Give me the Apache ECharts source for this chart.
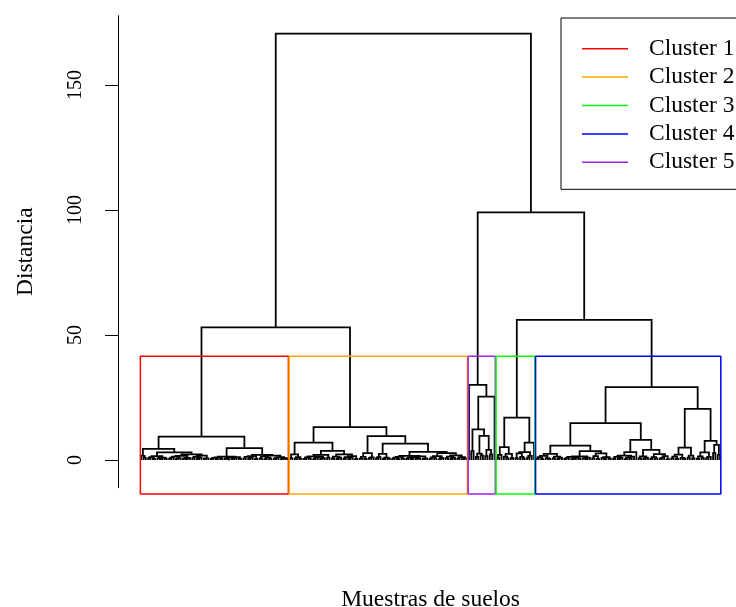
<!DOCTYPE html>
<html><head><meta charset="utf-8">
<script src="https://cdn.jsdelivr.net/npm/echarts@6/dist/echarts.min.js"></script>
<style>html,body{margin:0;padding:0;background:#fff}#c{width:736px;height:607px}</style>
</head><body><div id="c"></div>
<script>
// Cophenetic height between each pair of neighbouring leaves (in plot order), per cluster
const cluster1Gaps = [1.6, 0.8, 4.4,
  0.6, 1.1, 0.4, 1.5, 0.7, 0.3, 0.9, 0.5,
  3.0,
  0.5, 0.9, 1.3, 0.4, 0.7, 1.6, 0.6, 0.3, 0.8,
  2.2,
  0.7, 1.2, 0.4, 0.9, 1.7, 0.5, 0.6,
  9.3,
  0.4, 0.8, 0.3, 1.0, 0.5, 1.3, 0.6, 0.2, 0.9, 0.4, 0.7, 1.1, 0.5,
  4.7,
  0.5, 1.2, 0.3, 0.8, 1.5, 0.4,
  2.0,
  0.6, 1.4, 0.3, 0.9, 0.5, 1.7, 0.4, 0.8, 1.1, 0.3, 0.7, 0.5];
const cluster2Gaps = [0.7, 2.2, 0.5, 1.1, 0.4,
  6.9,
  0.4, 1.0, 0.6, 1.4, 0.3, 0.8, 1.2, 0.5, 0.7,
  2.0,
  0.9,
  3.6,
  0.6, 1.3, 0.4, 0.9, 2.2, 0.5, 1.1, 0.3, 0.8, 1.5, 0.4,
  13.1,
  0.5, 1.2, 0.4, 2.7, 0.8, 1.0,
  9.5,
  0.6, 1.1, 2.4, 0.4, 0.9, 0.5,
  6.5,
  0.5, 0.9, 0.3, 1.2, 0.6, 1.6, 0.4, 0.8, 0.3, 1.1, 0.5, 0.7, 1.4, 0.4, 0.6,
  3.2,
  0.4, 1.0, 0.6, 1.5, 0.3, 0.8,
  2.7,
  0.7, 1.3, 0.4, 0.9, 1.8, 0.5, 1.1, 0.3, 0.6];
const cluster5Gaps = [30.0, 3.5, 12.2, 1.2, 2.5, 1.8, 9.6, 1.5, 4.0, 2.2, 25.3];
const cluster3Gaps = [0.9, 2.0, 5.1, 1.3, 0.6, 2.4, 0.8, 16.9, 0.7, 2.6, 1.2, 0.5, 3.1, 0.9, 1.6, 6.9];
const cluster4Gaps = [0.5, 1.1, 0.3, 1.6, 0.7, 0.4,
  2.4,
  0.6, 1.3, 0.4, 0.9,
  5.7,
  0.4, 0.8, 1.2, 0.3, 0.6, 1.0, 0.5, 1.4, 0.7, 0.3, 0.9,
  3.5,
  0.6, 1.5, 0.4, 2.6, 0.8, 0.3, 1.1, 0.5,
  14.7,
  0.5, 1.2, 0.4, 0.8, 1.7, 0.3, 0.9, 0.6, 1.3,
  3.1,
  8.0,
  0.7, 1.4, 0.5, 0.9,
  4.0,
  0.4, 1.1, 0.6, 2.3, 0.5, 0.8, 1.5, 0.3,
  29.1,
  0.6, 1.3, 0.4, 2.1, 0.8, 0.5,
  4.9,
  0.9, 1.7, 0.6,
  20.4,
  0.5, 1.4, 0.8, 3.0, 0.6, 1.2,
  7.6,
  2.7, 6.0, 2.0];

// clusters in plot order (left to right) and the heights where neighbouring clusters join
const clusterOrder = ['Cluster 1', 'Cluster 2', 'Cluster 5', 'Cluster 3', 'Cluster 4'];
const clusterGapLists = [cluster1Gaps, cluster2Gaps, cluster5Gaps, cluster3Gaps, cluster4Gaps];
const joinHeights = [53.0, 170.5, 99.0, 56.0];
const legendNames = ['Cluster 1', 'Cluster 2', 'Cluster 3', 'Cluster 4', 'Cluster 5'];
const clusterColors = {'Cluster 1': '#FF0000', 'Cluster 2': '#FFA500', 'Cluster 3': '#00FF00', 'Cluster 4': '#0000FF', 'Cluster 5': '#A020F0'};
const yTicks = [0, 50, 100, 150];
const yTitle = 'Distancia';
const xTitle = 'Muestras de suelos';

// ---- build the dendrogram from the neighbour heights ----
const gaps = [];
const clusterSizes = [];
clusterGapLists.forEach((g, i) => {
  g.forEach(v => gaps.push(v));
  clusterSizes.push(g.length + 1);
  if (i < joinHeights.length) gaps.push(joinHeights[i]);
});
const nLeaves = gaps.length + 1;
const segments = [];
function build(lo, hi) {
  if (lo === hi) return {x: lo + 1, h: 0};
  let k = lo;
  for (let i = lo; i < hi; i++) if (gaps[i] > gaps[k]) k = i;
  const L = build(lo, k), R = build(k + 1, hi), h = gaps[k];
  segments.push({coords: [[L.x, L.h], [L.x, h], [R.x, h], [R.x, R.h]]});
  return {x: (L.x + R.x) / 2, h: h};
}
build(0, nLeaves - 1);

// rect.hclust style boxes
const sortedH = gaps.slice().sort((a, b) => b - a);
const k = clusterOrder.length;
const boxTop = (sortedH[k - 2] + sortedH[k - 1]) / 2;
const boxBottom = -13.6;
const rectSeries = [];
let cum = 0;
clusterOrder.forEach((name, i) => {
  const x0 = cum + 0.66, x1 = cum + clusterSizes[i] + 0.33;
  cum += clusterSizes[i];
  rectSeries.push({
    type: 'line', name: name, symbol: 'none', clip: false, z: 5, silent: true,
    data: [[x0, boxBottom], [x0, boxTop], [x1, boxTop], [x1, boxBottom], [x0, boxBottom]],
    lineStyle: {color: clusterColors[name], width: 1.5}, itemStyle: {color: clusterColors[name]}
  });
});

const pad = 0.04 * (nLeaves - 1);
const serif = 'Liberation Serif';
const chart = echarts.init(document.getElementById('c'), null, {renderer: 'canvas'});
chart.setOption({
  animation: false,
  backgroundColor: '#fff',
  grid: {left: 118, top: 15.7, width: 625.2, height: 472, containLabel: false, outerBoundsMode: 'none'},
  xAxis: {
    type: 'value', min: 1 - pad, max: nLeaves + pad,
    axisLine: {show: false}, axisTick: {show: false}, axisLabel: {show: false}, splitLine: {show: false},
    name: xTitle, nameLocation: 'middle', nameGap: 100,
    nameTextStyle: {fontFamily: serif, fontSize: 23.5, color: '#000'}
  },
  yAxis: {
    type: 'value', min: -11.1, max: 177.7,
    axisLine: {show: true, onZero: false, lineStyle: {color: '#000', width: 1}},
    axisTick: {show: true, length: 13, customValues: yTicks, lineStyle: {color: '#000', width: 1}},
    axisLabel: {show: true, customValues: yTicks, rotate: 90, margin: 32, fontFamily: serif, fontSize: 20, color: '#000'},
    splitLine: {show: false},
    name: yTitle, nameLocation: 'middle', nameRotate: 90, nameGap: 80,
    nameTextStyle: {fontFamily: serif, fontSize: 23.5, color: '#000'}
  },
  legend: {
    data: legendNames, orient: 'vertical', left: 561, top: 18,
    padding: [18.7, 20, 15, 21], borderColor: '#000', borderWidth: 1, backgroundColor: '#fff',
    icon: 'rect', itemWidth: 46, itemHeight: 1.5, itemGap: 4.4, selectedMode: false,
    textStyle: {fontFamily: serif, fontSize: 23.5, color: '#000', lineHeight: 20, padding: [0, 0, 0, 16]}
  },
  series: [{
    type: 'lines', coordinateSystem: 'cartesian2d', polyline: true, silent: true, z: 3,
    lineStyle: {color: '#000', width: 1.8, opacity: 1},
    data: segments
  }].concat(rectSeries)
});
</script></body></html>
